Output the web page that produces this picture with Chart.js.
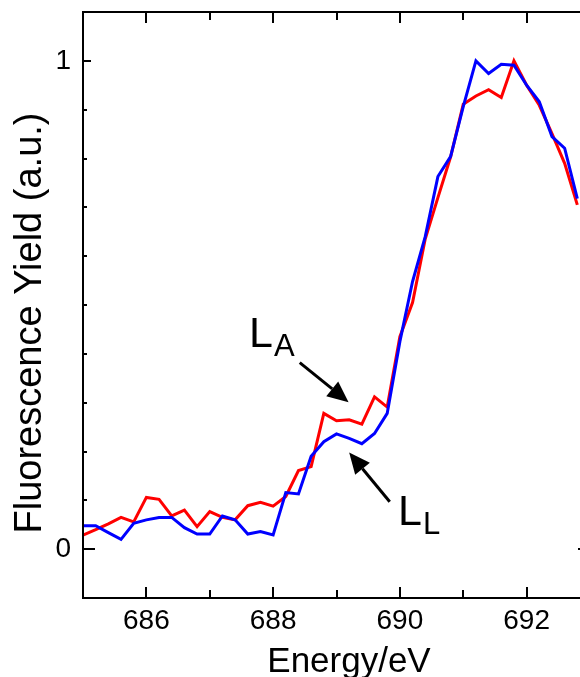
<!DOCTYPE html>
<html>
<head>
<meta charset="utf-8">
<script src="https://cdn.jsdelivr.net/npm/chart.js@4.4.1/dist/chart.umd.min.js"></script>
<style>
html,body{margin:0;padding:0;background:#fff;overflow:hidden;}
#wrap{width:600px;height:677px;}
</style>
</head>
<body>
<div id="wrap"><canvas id="mycanvas" width="600" height="677"></canvas></div>
<script>

// photon energy (eV), one point every 0.2 eV
const energy=[685.0,685.2,685.4,685.6,685.8,686.0,686.2,686.4,686.6,686.8,
              687.0,687.2,687.4,687.6,687.8,688.0,688.2,688.4,688.6,688.8,
              689.0,689.2,689.4,689.6,689.8,690.0,690.2,690.4,690.6,690.8,
              691.0,691.2,691.4,691.6,691.8,692.0,692.2,692.4,692.6,692.8];

// red trace (L_A)
const yieldLA=[0.029,0.040,0.052,0.065,0.056,0.106,0.102,0.068,0.080,0.046,
               0.077,0.065,0.060,0.089,0.096,0.088,0.108,0.161,0.169,0.278,
               0.263,0.265,0.256,0.312,0.291,0.435,0.505,0.635,0.720,0.803,
               0.911,0.928,0.941,0.925,1.000,0.950,0.909,0.851,0.790,0.705];

// blue trace (L_L)
const yieldLL=[0.048,0.048,0.034,0.020,0.053,0.060,0.065,0.065,0.044,0.031,
               0.031,0.068,0.060,0.031,0.036,0.029,0.116,0.113,0.190,0.220,
               0.236,0.227,0.216,0.237,0.278,0.425,0.548,0.640,0.763,0.804,
               0.906,1.000,0.974,0.993,0.991,0.950,0.916,0.845,0.821,0.718];

const xTickLabels=[686,688,690,692];
const yTickLabels=[0,1];

// labels with arrows, in data coordinates
const notes=[
    {main:"L",sub:"A",x:687.62,y:0.414,from:[688.42,0.382],to:[689.19,0.301]},
    {main:"L",sub:"L",x:689.97,y:0.050,from:[689.84,0.097],to:[689.20,0.198]}
];

const FONT="'Liberation Sans', Arial, Helvetica, sans-serif";

function near(a,b){
    return Math.abs(a-b)<1e-6;
}

function toPoints(ys){
    return energy.map(function(x,i){return {x:x,y:ys[i]};});
}

function arrow(ctx,x1,y1,x2,y2){
    const ang=Math.atan2(y2-y1,x2-x1);
    const hl=21, hw=9.5;
    const bx=x2-hl*Math.cos(ang), by=y2-hl*Math.sin(ang);
    ctx.beginPath();
    ctx.moveTo(x1,y1);
    ctx.lineTo(bx,by);
    ctx.stroke();
    ctx.beginPath();
    ctx.moveTo(x2,y2);
    ctx.lineTo(bx+hw*Math.sin(ang),by-hw*Math.cos(ang));
    ctx.lineTo(bx-hw*Math.sin(ang),by+hw*Math.cos(ang));
    ctx.closePath();
    ctx.fill();
}

//-----------------------------------------------------------------------------------------

const frame={
    id:"frame",
    afterDatasetsDraw(chart){
        const ctx=chart.ctx, a=chart.chartArea;
        const xs=chart.scales.x, ys=chart.scales.y;
        ctx.save();
        ctx.strokeStyle="#000";
        ctx.fillStyle="#000";
        ctx.lineWidth=2;
        ctx.strokeRect(a.left,a.top,a.right-a.left,a.bottom-a.top);

        // inward ticks on all four sides
        ctx.beginPath();
        xs.ticks.forEach(function(t){
            const px=Math.round(xs.getPixelForValue(t.value));
            const len=(Math.round(t.value)%2===0)?11:8;
            ctx.moveTo(px,a.bottom); ctx.lineTo(px,a.bottom-len);
            ctx.moveTo(px,a.top); ctx.lineTo(px,a.top+len);
        });
        ys.ticks.forEach(function(t){
            const py=Math.round(ys.getPixelForValue(t.value));
            let len=4;
            if(near(t.value,0)) len=12;
            else if(near(t.value,1)) len=8;
            ctx.moveTo(a.left,py); ctx.lineTo(a.left+len,py);
            ctx.moveTo(a.right,py); ctx.lineTo(a.right-len,py);
        });
        ctx.stroke();

        // axis titles
        ctx.font="35px "+FONT;
        ctx.textAlign="center";
        ctx.textBaseline="alphabetic";
        ctx.fillText("Energy/eV",a.left+266,chart.height-5);
        ctx.save();
        ctx.translate(41,323);
        ctx.rotate(-Math.PI/2);
        ctx.font="38px "+FONT;
        ctx.fillText("Fluorescence Yield (a.u.)",0,0);
        ctx.restore();

        // L_A / L_L labels and arrows
        ctx.lineWidth=3;
        ctx.textAlign="left";
        notes.forEach(function(n){
            const tx=xs.getPixelForValue(n.x), ty=ys.getPixelForValue(n.y);
            ctx.font="43px "+FONT;
            ctx.fillText(n.main,tx,ty);
            const w=ctx.measureText(n.main).width;
            ctx.font="31px "+FONT;
            ctx.fillText(n.sub,tx+w+1,ty+9);
            arrow(ctx,
                xs.getPixelForValue(n.from[0]),ys.getPixelForValue(n.from[1]),
                xs.getPixelForValue(n.to[0]),ys.getPixelForValue(n.to[1]));
        });
        ctx.restore();
    }
};

//-----------------------------------------------------------------------------------------

function drawchart(){
    const canvas=document.getElementById("mycanvas");
    const ctx=canvas.getContext("2d");
    new Chart(ctx,{
        type:"line",
        data:{
            datasets:[
                {label:"L_A",data:toPoints(yieldLA),borderColor:"#ff0000",borderWidth:3,
                 pointRadius:0,tension:0,fill:false,order:1},
                {label:"L_L",data:toPoints(yieldLL),borderColor:"#0000ff",borderWidth:3,
                 pointRadius:0,tension:0,fill:false,order:0}
            ]
        },
        options:{
            responsive:false,
            animation:false,
            layout:{padding:{left:0,top:12,right:10,bottom:0}},
            plugins:{legend:{display:false},tooltip:{enabled:false}},
            scales:{
                x:{
                    type:"linear",min:685,max:693,
                    grid:{display:false},border:{display:false},
                    ticks:{
                        stepSize:1,padding:-2,color:"#000",autoSkip:false,maxRotation:0,
                        font:{family:FONT,size:28},
                        callback:function(v){
                            const r=Math.round(v);
                            return (near(v,r)&&xTickLabels.includes(r))?String(r):"";
                        }
                    },
                    afterFit:function(s){s.height=79;s.paddingLeft=0;s.paddingRight=0;}
                },
                y:{
                    type:"linear",min:-0.1,max:1.1,
                    grid:{display:false},border:{display:false},
                    ticks:{
                        stepSize:0.1,padding:4,color:"#000",autoSkip:false,
                        font:{family:FONT,size:28},
                        callback:function(v){
                            const k=yTickLabels.find(function(t){return near(v,t);});
                            return k===undefined?"":String(k);
                        }
                    },
                    afterFit:function(s){s.width=83;s.paddingTop=0;s.paddingBottom=0;}
                }
            }
        },
        plugins:[frame]
    });
}

drawchart();
</script>
</body>
</html>
